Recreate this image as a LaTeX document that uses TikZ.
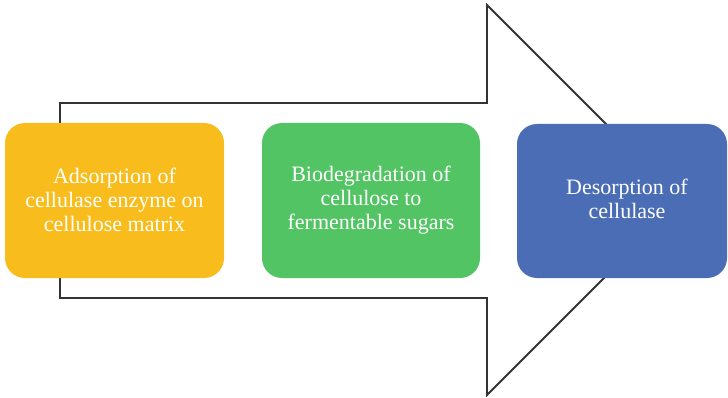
\documentclass[tikz,border=0pt]{standalone}
\usepackage{fontspec}
\setmainfont{Liberation Serif}
\definecolor{cyel}{HTML}{F8BC1C}
\definecolor{cgrn}{HTML}{52C463}
\definecolor{cblu}{HTML}{4A6DB5}
\definecolor{cline}{HTML}{333333}
\begin{document}
\begin{tikzpicture}[x=1pt,y=-1pt,
  stepbox/.style={inner sep=0pt, text=white, align=center,
    font=\fontsize{22}{24}\selectfont},
  boxfill/.style={rounded corners=20pt},
  arrowline/.style={draw=cline, line width=1.8pt, line join=miter}]
\useasboundingbox (0,0) rectangle (728,398);
% big arrow outline
\coordinate (s1) at (60,103);
\coordinate (s2) at (487,103);
\coordinate (h1) at (487,5);
\coordinate (tip) at (682,200);
\coordinate (h2) at (487,395);
\coordinate (s3) at (487,298);
\coordinate (s4) at (60,298);
\draw[arrowline] (s1) -- (s2) -- (h1) -- (tip) -- (h2) -- (s3) -- (s4) -- cycle;
% boxes
\fill[cyel, boxfill] (5,123) rectangle (224,278);
\node[stepbox] (a) at (114.5,200) {Adsorption of\\cellulase enzyme on\\cellulose matrix};
\fill[cgrn, boxfill] (262,123) rectangle (480,278);
\node[stepbox] (b) at (371,200) {Biodegradation of\\cellulose to\\fermentable sugars};
\fill[cblu, boxfill] (517,124) rectangle (727,278);
\node[stepbox] (c) at (627,199) {Desorption of\\cellulase};
\end{tikzpicture}
\end{document}
